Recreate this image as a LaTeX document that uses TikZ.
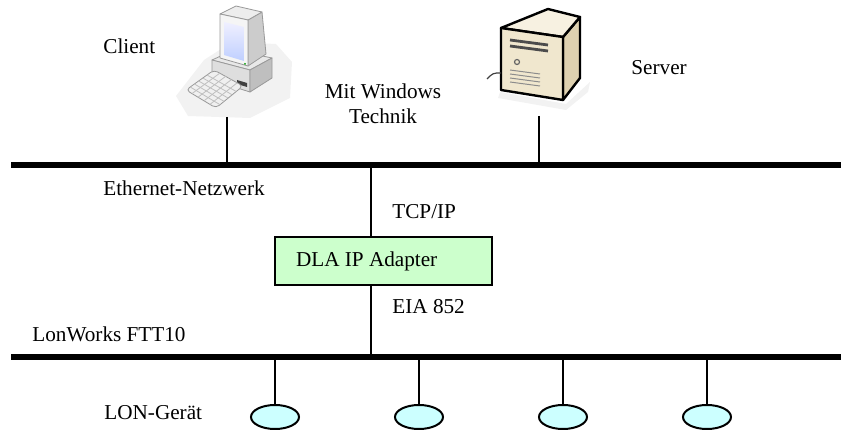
\documentclass[tikz,border=0pt]{standalone}
\usepackage{fontspec}
\setmainfont{Liberation Serif}
\usetikzlibrary{shapes.geometric,calc}

\definecolor{adaptergreen}{RGB}{204,255,204}
\definecolor{lonnode}{RGB}{204,255,255}
\definecolor{caseFront}{RGB}{240,231,206}
\definecolor{caseTop}{RGB}{247,241,225}
\definecolor{caseSide}{RGB}{222,209,176}

\tikzset{
  bus/.style={line width=3pt},
  link/.style={line width=1pt},
  lbl/.style={inner sep=0pt, anchor=west},
  adapter/.style={draw, line width=1pt, fill=adaptergreen,
    inner xsep=10.5pt, minimum height=24pt},
  londevice/.style={draw, ellipse, line width=1pt, fill=lonnode,
    minimum width=24pt, minimum height=12pt, inner sep=0pt},
}

\begin{document}
\begin{tikzpicture}[x=0.5pt, y=-0.5pt, font=\fontsize{10.6}{12.5}\selectfont]
\useasboundingbox (0,0) rectangle (841,432);

% PC
\begin{scope}[line join=round, line width=0.4pt, draw=black!40]
  \fill[black!5] (176,96) -- (204,60) -- (232,42) -- (276,44) -- (292,62) -- (290,98) -- (250,118) -- (188,116) -- cycle;
  \filldraw[fill=black!9] (212,60) -- (234,50) -- (272,58) -- (250,70) -- cycle;
  \filldraw[fill=black!13] (212,60) -- (250,70) -- (250,92) -- (212,80) -- cycle;
  \filldraw[fill=black!25] (250,70) -- (272,58) -- (272,78) -- (250,92) -- cycle;
  \fill[black!75] (237,80) -- (247,83) -- (247,87) -- (237,84) -- cycle;
  \filldraw[fill=black!20] (248,20) -- (262,12) -- (266,54) -- (248,66) -- cycle;
  \filldraw[fill=black!7] (220,14) -- (236,6) -- (262,12) -- (248,20) -- cycle;
  \filldraw[fill=black!4] (220,14) -- (248,20) -- (248,66) -- (220,58) -- cycle;
  \shade[top color=blue!6, bottom color=cyan!25!blue!25] (224,22) -- (244,27) -- (244,61) -- (224,55) -- cycle;
  \fill[green!60!black] (245,64) circle (1);
  \filldraw[fill=black!6, rounded corners=2pt] (186,90) -- (214,70) -- (243,86) -- (216,108) -- cycle;
  \foreach \t in {0.2,0.4,0.6,0.8}
    \draw[black!25] ($(186,90)!\t!(216,108)$) -- ($(214,70)!\t!(243,86)$);
  \foreach \t in {0.15,0.3,...,0.9}
    \draw[black!25] ($(186,90)!\t!(214,70)$) -- ($(216,108)!\t!(243,86)$);
\end{scope}

% server tower
\begin{scope}[line join=round, line width=1.2pt]
  \fill[black!5] (500,92) -- (566,104) -- (590,82) -- (588,92) -- (566,110) -- (498,98) -- cycle;
  \filldraw[fill=caseSide] (563,37) -- (580,17) -- (580,78) -- (563,100) -- cycle;
  \filldraw[fill=caseTop] (501,28) -- (548,9) -- (580,17) -- (563,37) -- cycle;
  \filldraw[fill=caseFront] (501,28) -- (563,37) -- (563,100) -- (501,90) -- cycle;
  \draw[line width=1.4pt, black!70] (510,40) -- (548,45);
  \draw[line width=1.4pt, black!70] (510,46) -- (548,51);
  \draw[line width=0.6pt, black!60] (517,62) circle (2.5);
  \foreach \y in {70,74,78,82}
    \draw[line width=0.5pt, black!45] (510,\y) -- (540,\y+4);
  \draw[line width=0.6pt, black!75] (487,79) .. controls (493,73) .. (501,73);
\end{scope}

\coordinate (eth-w) at (11,165);
\coordinate (eth-e) at (841,165);
\coordinate (lon-w) at (11,357);
\coordinate (lon-e) at (841,357);
\coordinate (client-port) at (227,117);
\coordinate (server-port) at (539,116);
\coordinate (adapter-tap) at (371,165);

\node[lbl] (client) at (103,46) {Client};
\node[lbl] (server) at (631,68) {Server};
\node[align=center, inner sep=0pt] (windows) at (383,104) {Mit Windows\\Technik};
\node[lbl] (ethernet) at (103,188) {Ethernet-Netzwerk};
\node[lbl] (tcpip) at (392,212) {TCP/IP};
\node[adapter] (dla) at (383.5,261) {\makebox[87.5pt][l]{DLA IP Adapter}};
\node[lbl] (eia) at (392,307) {EIA 852};
\node[lbl] (lonworks) at (32,334) {LonWorks FTT10};
\node[lbl] (gerat) at (104,413) {LON-Gerät};

\draw[bus] (eth-w) -- (eth-e);
\draw[bus] (lon-w) -- (lon-e);
\draw[link] (client-port) -- (client-port |- eth-w);
\draw[link] (server-port) -- (server-port |- eth-w);
\draw[link] (adapter-tap) -- (adapter-tap |- dla.north);
\draw[link] (adapter-tap |- dla.south) -- (adapter-tap |- lon-w);

\foreach \i/\x in {1/275,2/419,3/563,4/707} {
  \node[londevice] (dev\i) at (\x,417) {};
  \draw[link] (dev\i.north |- lon-w) -- (dev\i.north);
}
\end{tikzpicture}
\end{document}
